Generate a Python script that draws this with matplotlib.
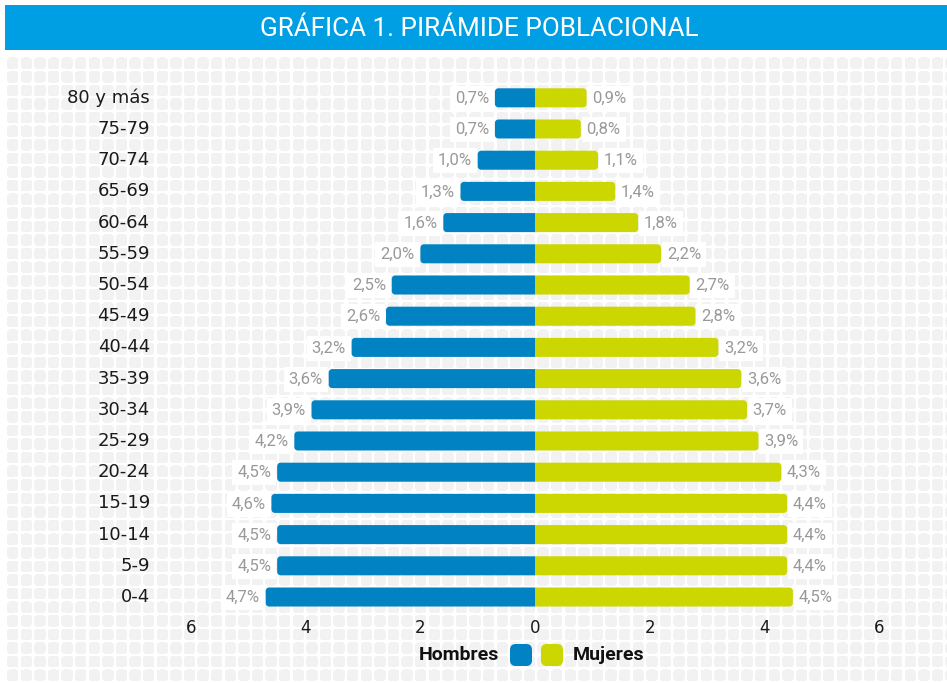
import numpy as np
import matplotlib
matplotlib.use("Agg")
import matplotlib.pyplot as plt
from matplotlib.patches import FancyBboxPatch, Rectangle, PathPatch
from matplotlib.path import Path

# ---- data ----
grupos = ["80 y más", "75-79", "70-74", "65-69", "60-64", "55-59", "50-54",
          "45-49", "40-44", "35-39", "30-34", "25-29", "20-24", "15-19",
          "10-14", "5-9", "0-4"]
hombres = [0.7, 0.7, 1.0, 1.3, 1.6, 2.0, 2.5, 2.6, 3.2, 3.6, 3.9, 4.2, 4.5, 4.6, 4.5, 4.5, 4.7]
mujeres = [0.9, 0.8, 1.1, 1.4, 1.8, 2.2, 2.7, 2.8, 3.2, 3.6, 3.7, 3.9, 4.3, 4.4, 4.4, 4.4, 4.5]
ticks = [-6, -4, -2, 0, 2, 4, 6]
tick_labels = ["6", "4", "2", "0", "2", "4", "6"]
titulo = "GRÁFICA 1. PIRÁMIDE POBLACIONAL"

AZUL = "#0082C3"
VERDE = "#CCD600"
BANNER = "#009FE3"

W, H = 947, 683
fig = plt.figure(figsize=(W / 100, H / 100), dpi=100)
fig.patch.set_facecolor("white")

# ---- background pattern of rounded squares ----
img = np.ones((H, W, 3))
pitch = 13.6
sq = 11.5
rad = 3.0
yy, xx = np.mgrid[0:H, 0:W].astype(float)
lx = (xx - 6.5) % pitch
ly = (yy - 57.0) % pitch
inside = (lx < sq) & (ly < sq)
cx = np.clip(lx, rad, sq - rad)
cy = np.clip(ly, rad, sq - rad)
corner_ok = (lx - cx) ** 2 + (ly - cy) ** 2 <= rad ** 2
mask = inside & corner_ok & (yy >= 57) & (xx >= 5)
col = np.array([0xF2, 0xF2, 0xF2]) / 255.0
img[mask] = col
fig.figimage(img, xo=0, yo=0, origin="upper", zorder=0)

# ---- title banner ----
fig.patches.append(Rectangle((5 / W, 1 - 50 / H), (W - 5) / W, 45 / H,
                             transform=fig.transFigure, facecolor=BANNER,
                             edgecolor="none", zorder=1))
fig.text(479 / W, 1 - 29 / H, titulo, ha="center", va="center", color="white",
         fontsize=18.8, family="Roboto", zorder=2)

# ---- axes ----
x0_px, scale = 535.0, 57.3
left_px, right_px = 160.0, 910.0
row0_px, step = 597.0, 31.2
top_px, bot_px = 80.0, 615.0
ax = fig.add_axes([left_px / W, 1 - bot_px / H, (right_px - left_px) / W, (bot_px - top_px) / H])
ax.set_zorder(5)
ax.set_facecolor("none")
ax.patch.set_alpha(0)
ax.set_xlim((left_px - x0_px) / scale, (right_px - x0_px) / scale)
ax.set_ylim((row0_px - bot_px) / step, (row0_px - top_px) / step)

n = len(grupos)
ypos = np.arange(n)[::-1]  # first group at top
bh = 0.61
rpx = 3.5
rx = rpx / scale
ry = rpx / step


def outer_round_bar(value, yc, sign):
    """Bar from 0 to sign*value, outer end rounded (radius in pixels)."""
    end = sign * value
    y0, y1 = yc - bh / 2, yc + bh / 2
    t = np.linspace(0, np.pi / 2, 10)
    pts = [(0, y0)]
    # bottom outer corner
    cxe = end - sign * rx
    for a in t:
        pts.append((cxe + sign * rx * np.sin(a), y0 + ry - ry * np.cos(a)))
    for a in t:
        pts.append((cxe + sign * rx * np.cos(a), y1 - ry + ry * np.sin(a)))
    pts.append((0, y1))
    pts.append((0, y0))
    codes = [Path.MOVETO] + [Path.LINETO] * (len(pts) - 2) + [Path.CLOSEPOLY]
    return Path(pts, codes)


for y, g, h, m in zip(ypos, grupos, hombres, mujeres):
    ax.add_patch(PathPatch(outer_round_bar(h, y, -1), facecolor=AZUL,
                           edgecolor="none", zorder=3))
    ax.add_patch(PathPatch(outer_round_bar(m, y, 1), facecolor=VERDE,
                           edgecolor="none", zorder=3))
    bbox = dict(boxstyle="square,pad=0.3", facecolor="white", edgecolor="none")
    ax.text(-h - 0.1, y - 0.02, f"{h:.1f}%".replace(".", ","), ha="right", va="center",
            color="#999999", fontsize=12, family="Roboto",
            bbox=bbox, zorder=4)
    ax.text(m + 0.1, y - 0.02, f"{m:.1f}%".replace(".", ","), ha="left", va="center",
            color="#999999", fontsize=12, family="Roboto",
            bbox=bbox, zorder=4)
    ax.text((150 - x0_px) / scale, y, g, ha="right", va="center",
            color="#1a1a1a", fontsize=13, family="DejaVu Sans", zorder=4)

ax.set_xticks(ticks)
ax.set_xticklabels(tick_labels, fontsize=12, family="DejaVu Sans", color="#1a1a1a")
ax.tick_params(axis="x", length=0, pad=3)
ax.set_yticks([])
for s in ax.spines.values():
    s.set_visible(False)

# ---- legend ----
ly_px = 655
fig.text(499 / W, 1 - ly_px / H, "Hombres", ha="right", va="center", fontsize=14,
         fontweight="bold", family="Roboto", color="#111111")
fig.text(573 / W, 1 - ly_px / H, "Mujeres", ha="left", va="center", fontsize=14,
         fontweight="bold", family="Roboto", color="#111111")
for x_px, c in [(510, AZUL), (541, VERDE)]:
    fig.patches.append(FancyBboxPatch((x_px / W, 1 - (ly_px + 11) / H), 22 / W, 22 / H,
                                      boxstyle="round,pad=0,rounding_size=0.006",
                                      mutation_aspect=W / H,
                                      transform=fig.transFigure, facecolor=c,
                                      edgecolor="none", zorder=2))

fig.savefig("out.png", dpi=100)
